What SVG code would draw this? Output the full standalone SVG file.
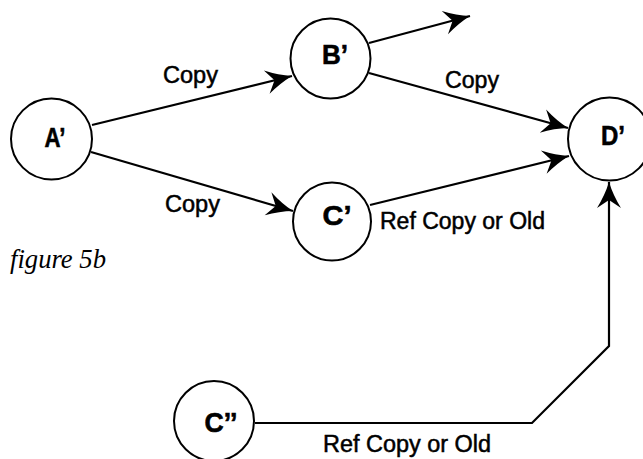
<svg xmlns="http://www.w3.org/2000/svg" width="643" height="459" viewBox="0 0 643 459">
<style>
.node{fill:#fff;stroke:#000;stroke-width:2}
.nl{font-family:"Liberation Sans",Arial,sans-serif;font-weight:bold;font-size:27px;text-anchor:middle;fill:#000;stroke:#000;stroke-width:0.6}
.el{font-family:"Liberation Sans",Arial,sans-serif;font-size:23px;fill:#000;stroke:#000;stroke-width:0.5}
.edge{fill:none;stroke:#000;stroke-width:2.2}
.cap{font-family:"Liberation Serif","Times New Roman",serif;font-style:italic;font-size:27px;fill:#000}
</style>
<defs>
<marker id="ah" markerUnits="userSpaceOnUse" viewBox="-28 -14 30 28" refX="0" refY="0" markerWidth="30" markerHeight="28" orient="auto">
<path d="M0,0 Q-13,-4 -26,-12 L-18,0 L-26,12 Q-13,4 0,0 Z" fill="#000"/>
</marker>
</defs>
<rect width="643" height="459" fill="#fff"/>
<g id="connectors">
<path class="edge" d="M92,125 L292,76" marker-end="url(#ah)"/>
<path class="edge" d="M91,152 L293,211" marker-end="url(#ah)"/>
<path class="edge" d="M369,43 L470,16" marker-end="url(#ah)"/>
<path class="edge" d="M369,73 L568,128" marker-end="url(#ah)"/>
<path class="edge" d="M370,205 L569,156" marker-end="url(#ah)"/>
<path class="edge" d="M255,423 L532,423 L609,346 L609,182" marker-end="url(#ah)"/>
<text class="el" x="163" y="83" textLength="55" lengthAdjust="spacingAndGlyphs">Copy</text>
<text class="el" x="165" y="212" textLength="55" lengthAdjust="spacingAndGlyphs">Copy</text>
<text class="el" x="445" y="88" textLength="54" lengthAdjust="spacingAndGlyphs">Copy</text>
<text class="el" x="380" y="229" textLength="165" lengthAdjust="spacingAndGlyphs">Ref Copy or Old</text>
<text class="el" x="323" y="452" textLength="168" lengthAdjust="spacingAndGlyphs">Ref Copy or Old</text>
</g>
<g id="nodeA">
<circle class="node" cx="51.5" cy="139" r="40.5"/>
<text class="nl" x="55" y="147" textLength="21" lengthAdjust="spacingAndGlyphs">A’</text>
</g>
<g id="nodeB">
<circle class="node" cx="330.5" cy="58.5" r="40"/>
<text class="nl" x="335" y="64" textLength="26" lengthAdjust="spacingAndGlyphs">B’</text>
</g>
<g id="nodeC">
<circle class="node" cx="332" cy="221.5" r="39"/>
<text class="nl" x="337" y="225" textLength="29" lengthAdjust="spacingAndGlyphs">C’</text>
</g>
<g id="nodeD">
<circle class="node" cx="609.5" cy="139" r="41.5"/>
<text class="nl" x="613" y="145" textLength="24" lengthAdjust="spacingAndGlyphs">D’</text>
</g>
<g id="nodeC2">
<circle class="node" cx="214" cy="421" r="40"/>
<text class="nl" x="221" y="432" textLength="33" lengthAdjust="spacingAndGlyphs">C’’</text>
</g>
<text class="cap" x="10" y="268" textLength="96" lengthAdjust="spacingAndGlyphs">figure 5b</text>
</svg>
